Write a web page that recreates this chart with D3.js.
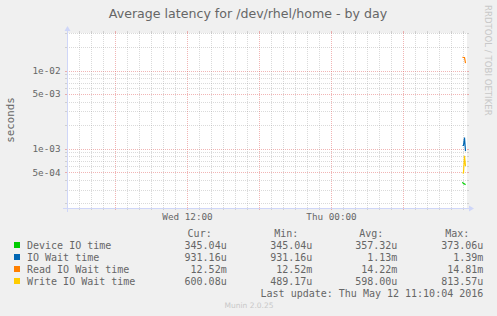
<!DOCTYPE html>
<html><head><meta charset="utf-8">
<script src="https://cdn.jsdelivr.net/npm/d3@7"></script>
<style>body{margin:0;background:#f0f0f0}svg{display:block}</style></head>
<body>
<script>
// ---- data ----
const seriesNames = ["Device IO time", "IO Wait time", "Read IO Wait time", "Write IO Wait time"];
const seriesColors = ["#00cc00", "#0066b3", "#ff8000", "#ffcc00"];
const times = ["2016-05-12 10:55", "2016-05-12 11:00", "2016-05-12 11:05", "2016-05-12 11:10"];
const deviceIO = [373.06e-6, 356.0e-6, 355.18e-6, 345.04e-6];
const ioWait = [1.10e-3, 1.10e-3, 1.39e-3, 0.93116e-3];
const readIO = [14.81e-3, 14.78e-3, 14.77e-3, 12.52e-3];
const writeIO = [489.17e-6, 489.2e-6, 813.57e-6, 600.08e-6];
const curVals = ["345.04u", "931.16u", "12.52m", "600.08u"];
const minVals = ["345.04u", "931.16u", "12.52m", "489.17u"];
const avgVals = ["357.32u", "1.13m", "14.22m", "598.00u"];
const maxVals = ["373.06u", "1.39m", "14.81m", "813.57u"];
const yTickValues = [1e-2, 5e-3, 1e-3, 5e-4];
const yTickLabels = ["1e-02", "5e-03", "1e-03", "5e-04"];
const timeStart = "2016-05-11 02:00";
const timeEnd = "2016-05-12 11:20";
const yDomain = [1.74e-4, 3.04e-2];

// ---- layout ----
const W = 497, H = 316;
const X0 = 67, X1 = 467, Y0 = 208, Y1 = 33;
const FONT = "#666666", AXIS = "#cfd6f8";
const parse = d3.timeParse("%Y-%m-%d %H:%M");

const svg = d3.select("body").append("svg").attr("width", W).attr("height", H)
  .style("font-family", "'DejaVu Sans Mono', monospace");
svg.append("rect").attr("width", W).attr("height", H).attr("fill", "#f0f0f0");

const x = d3.scaleTime().domain([parse(timeStart), parse(timeEnd)]).range([X0, X1]);
const y = d3.scaleLog().domain(yDomain).range([Y0, Y1]);

svg.append("rect").attr("x", X0).attr("y", Y1).attr("width", X1 - X0).attr("height", Y0 - Y1).attr("fill", "#fff");

const gridMinor = "rgba(140,140,140,0.32)";
const gridMajor = "rgba(225,90,90,0.45)";
const g = svg.append("g").attr("shape-rendering", "crispEdges");

// horizontal grid
const hLines = [];
for (let e = -4; e <= -1; e++) for (let m = 1; m <= 9; m++) {
  const v = m * Math.pow(10, e);
  if (v >= yDomain[0] && v <= yDomain[1]) hLines.push({v, major: m === 1 || m === 5});
}
hLines.forEach(d => {
  const yy = Math.round(y(d.v)) + 0.5;
  const c = d.major ? gridMajor : gridMinor;
  g.append("line").attr("x1", X0).attr("x2", X1).attr("y1", yy).attr("y2", yy)
    .attr("stroke", c).attr("stroke-dasharray", "1,1");
  g.append("line").attr("x1", X0 - 2).attr("x2", X0).attr("y1", yy).attr("y2", yy).attr("stroke", c);
  g.append("line").attr("x1", X1).attr("x2", X1 + 2).attr("y1", yy).attr("y2", yy).attr("stroke", c);
});

// vertical grid
x.ticks(d3.timeHour.every(1)).forEach(t => {
  const xx = Math.round(x(t)) + 0.5;
  const major = t.getHours() % 6 === 0;
  const c = major ? gridMajor : gridMinor;
  g.append("line").attr("x1", xx).attr("x2", xx).attr("y1", Y1).attr("y2", Y0)
    .attr("stroke", c).attr("stroke-dasharray", "1,1");
  g.append("line").attr("x1", xx).attr("x2", xx).attr("y1", Y0).attr("y2", Y0 + 2).attr("stroke", c);
  g.append("line").attr("x1", xx).attr("x2", xx).attr("y1", Y1 - 2).attr("y2", Y1).attr("stroke", c);
});

// axes
g.append("line").attr("x1", X0 - 4).attr("x2", X1 + 4).attr("y1", Y0 + 0.5).attr("y2", Y0 + 0.5).attr("stroke", AXIS);
g.append("line").attr("x1", X0 + 0.5).attr("x2", X0 + 0.5).attr("y1", Y0 + 4).attr("y2", Y1 - 4).attr("stroke", AXIS);
svg.append("path").attr("d", `M${X1 + 2},${Y0 - 3 + 0.5}L${X1 + 2},${Y0 + 3 + 0.5}L${X1 + 7},${Y0 + 0.5}Z`).attr("fill", AXIS);
svg.append("path").attr("d", `M${X0 - 3 + 0.5},${Y1 - 2}L${X0 + 3 + 0.5},${Y1 - 2}L${X0 + 0.5},${Y1 - 7}Z`).attr("fill", AXIS);

// y tick labels
yTickValues.forEach((v, i) => {
  svg.append("text").attr("x", 60.5).attr("y", y(v) + 3.3).attr("text-anchor", "end")
    .attr("font-size", "9.3px").attr("fill", FONT).text(yTickLabels[i]);
});
// x tick labels
const fmt = d3.timeFormat("%a %H:%M");
x.ticks(d3.timeHour.every(12)).forEach(t => {
  svg.append("text").attr("x", x(t) + 0.5).attr("y", 220).attr("text-anchor", "middle")
    .attr("font-size", "9.3px").attr("fill", FONT).text(fmt(t));
});

// lines
const seriesData = [deviceIO, ioWait, readIO, writeIO];
const line = d3.line().x((d, i) => x(parse(times[i])) + 0.5).y(d => y(d));
seriesData.forEach((vals, k) => {
  svg.append("path").datum(vals).attr("d", line).attr("fill", "none")
    .attr("stroke", seriesColors[k]).attr("stroke-width", 1.2);
});

// title
svg.append("text").attr("x", 248).attr("y", 18).attr("text-anchor", "middle")
  .style("font-family", "'DejaVu Sans', sans-serif").attr("font-size", "12.6px")
  .attr("fill", FONT).text("Average latency for /dev/rhel/home - by day");

// y label
svg.append("text").attr("transform", "translate(14,120) rotate(-90)").attr("text-anchor", "middle")
  .attr("font-size", "10.8px").attr("fill", FONT).text("seconds");

// watermark
svg.append("text").attr("transform", "translate(485,5) rotate(90)")
  .style("font-family", "'DejaVu Sans', sans-serif").attr("font-size", "8.6px")
  .attr("fill", "#c8c8c8").text("RRDTOOL / TOBI OETIKER");

// legend
const rowY = [249, 261, 273, 285];
const colEnds = [226.7, 312.3, 397.3, 483.3];
const headers = ["Cur:", "Min:", "Avg:", "Max:"];
const headerEnds = [211.7, 298.3, 383.3, 469.3];
headers.forEach((h, i) => svg.append("text").attr("x", headerEnds[i]).attr("y", 237)
  .attr("text-anchor", "end").attr("font-size", "10px").attr("fill", FONT).text(h));
const cols = [curVals, minVals, avgVals, maxVals];
seriesNames.forEach((n, k) => {
  svg.append("rect").attr("x", 14).attr("y", rowY[k] - 7).attr("width", 6).attr("height", 6).attr("fill", seriesColors[k]);
  svg.append("text").attr("x", 27).attr("y", rowY[k]).attr("font-size", "10px").attr("fill", FONT).text(n);
  cols.forEach((c, i) => svg.append("text").attr("x", colEnds[i]).attr("y", rowY[k])
    .attr("text-anchor", "end").attr("font-size", "10px").attr("fill", FONT).text(c[k]));
});
svg.append("text").attr("x", 483.3).attr("y", 297).attr("text-anchor", "end")
  .attr("font-size", "10px").attr("fill", FONT).text("Last update: Thu May 12 11:10:04 2016");
svg.append("text").attr("x", 249).attr("y", 308).attr("text-anchor", "middle")
  .style("font-family", "'DejaVu Sans', sans-serif").attr("font-size", "7.5px")
  .attr("fill", "#c8c8c8").text("Munin 2.0.25");
</script>
</body></html>
